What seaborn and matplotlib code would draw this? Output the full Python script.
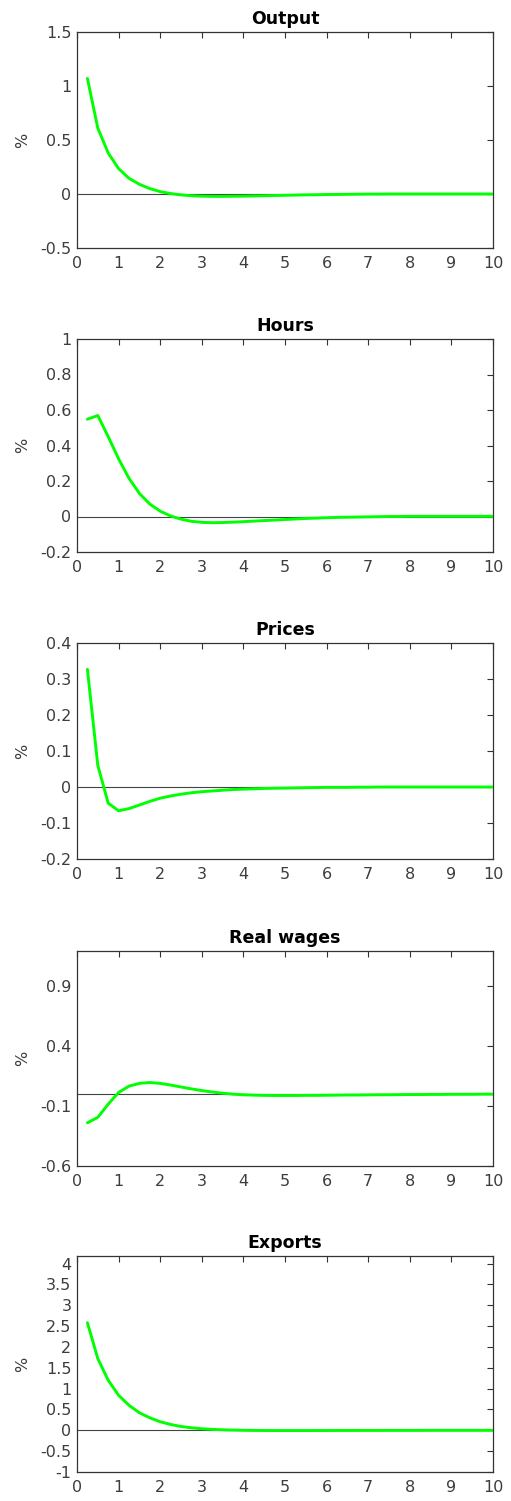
import numpy as np
import pandas as pd
import matplotlib
matplotlib.use("Agg")
import matplotlib.pyplot as plt
import seaborn as sns

# ---------------- data ----------------
quarters = [0.25 * (i + 1) for i in range(40)]  # years, quarterly horizon

output = [1.07, 0.61, 0.38, 0.235, 0.145, 0.09, 0.05, 0.022, 0.004, -0.008,
          -0.016, -0.02, -0.022, -0.022, -0.021, -0.02, -0.018, -0.016, -0.014, -0.012,
          -0.01, -0.008, -0.007, -0.005, -0.004, -0.003, -0.002, -0.001, -0.001, 0.0,
          0.0, 0.0, 0.0, 0.0, 0.0, 0.0, 0.0, 0.0, 0.0, 0.0]

hours = [0.548, 0.569, 0.45, 0.325, 0.215, 0.13, 0.07, 0.03, 0.003, -0.015,
         -0.027, -0.033, -0.035, -0.034, -0.032, -0.029, -0.026, -0.023, -0.02, -0.017,
         -0.014, -0.011, -0.009, -0.007, -0.005, -0.004, -0.003, -0.002, -0.001, 0.0,
         0.0, 0.001, 0.001, 0.001, 0.001, 0.001, 0.001, 0.001, 0.001, 0.001]

prices = [0.327, 0.06, -0.045, -0.066, -0.06, -0.05, -0.04, -0.031, -0.025, -0.02,
          -0.016, -0.013, -0.011, -0.009, -0.007, -0.006, -0.005, -0.004, -0.0035, -0.003,
          -0.0025, -0.002, -0.0015, -0.001, -0.001, -0.001, -0.0005, -0.0005, 0.0, 0.0,
          0.0, 0.0, 0.0, 0.0, 0.0, 0.0, 0.0, 0.0, 0.0, 0.0]

real_wages = [-0.24, -0.195, -0.085, 0.012, 0.065, 0.088, 0.095, 0.088, 0.074, 0.058,
              0.042, 0.028, 0.016, 0.006, -0.002, -0.007, -0.01, -0.012, -0.013, -0.013,
              -0.013, -0.012, -0.012, -0.011, -0.01, -0.009, -0.009, -0.008, -0.007, -0.007,
              -0.006, -0.005, -0.005, -0.004, -0.004, -0.003, -0.003, -0.003, -0.002, -0.002]

exports = [2.58, 1.72, 1.2, 0.84, 0.6, 0.42, 0.3, 0.205, 0.14, 0.092,
           0.06, 0.037, 0.022, 0.012, 0.005, 0.0, -0.003, -0.005, -0.006, -0.006,
           -0.006, -0.006, -0.005, -0.005, -0.004, -0.004, -0.003, -0.003, -0.003, -0.002,
           -0.002, -0.002, -0.002, -0.001, -0.001, -0.001, -0.001, -0.001, -0.001, -0.001]

titles = ["Output", "Hours", "Prices", "Real wages", "Exports"]
series = [output, hours, prices, real_wages, exports]
y_limits = [(-0.5, 1.5), (-0.2, 1.0), (-0.2, 0.4), (-0.6, 1.19), (-1.0, 4.18)]
y_ticks = [[-0.5, 0, 0.5, 1, 1.5],
           [-0.2, 0, 0.2, 0.4, 0.6, 0.8, 1],
           [-0.2, -0.1, 0, 0.1, 0.2, 0.3, 0.4],
           [-0.6, -0.1, 0.4, 0.9],
           [-1, -0.5, 0, 0.5, 1, 1.5, 2, 2.5, 3, 3.5, 4]]
x_ticks = list(range(0, 11))

# ---------------- style ----------------
sns.set_style("white")
plt.rcParams["font.family"] = ["DejaVu Sans"]

W, H = 511, 1501
fig = plt.figure(figsize=(W / 100, H / 100), dpi=100)

# panel pixel boxes (top, bottom)
boxes = [(32, 248), (339, 552), (643, 859), (951, 1166), (1256, 1472)]
left_px, right_px = 77, 493
axis_col = "#333333"
label_col = "#3d3d3d"


def fmt(v):
    return f"{v:g}"


for title, vals, ylim, yt, (top, bot) in zip(titles, series, y_limits, y_ticks, boxes):
    ax = fig.add_axes([left_px / W, 1 - bot / H, (right_px - left_px) / W, (bot - top) / H])
    df = pd.DataFrame({"t": quarters, "v": vals})
    ax.axhline(0, color="#444444", lw=0.8, zorder=1)
    sns.lineplot(data=df, x="t", y="v", ax=ax, color="#00FF00", lw=2.1, zorder=3)
    ax.set_xlim(0, 10)
    ax.set_ylim(*ylim)
    ax.set_xticks(x_ticks)
    ax.set_xticklabels([str(x) for x in x_ticks])
    ax.set_yticks(yt)
    ax.set_yticklabels([fmt(v) for v in yt])
    ax.tick_params(direction="in", length=4, width=0.8, color=axis_col,
                   labelcolor=label_col, labelsize=11.5, top=True, right=True)
    ax.tick_params(axis="x", pad=6)
    ax.tick_params(axis="y", pad=4)
    for sp in ax.spines.values():
        sp.set_color(axis_col)
        sp.set_linewidth(0.9)
    ax.set_xlabel("")
    ax.set_ylabel("%", fontsize=11.5, color=label_col, labelpad=7)
    ax.set_title(title, fontsize=12.5, fontweight="bold", color="black", pad=6)

fig.savefig("out.png", dpi=100)
